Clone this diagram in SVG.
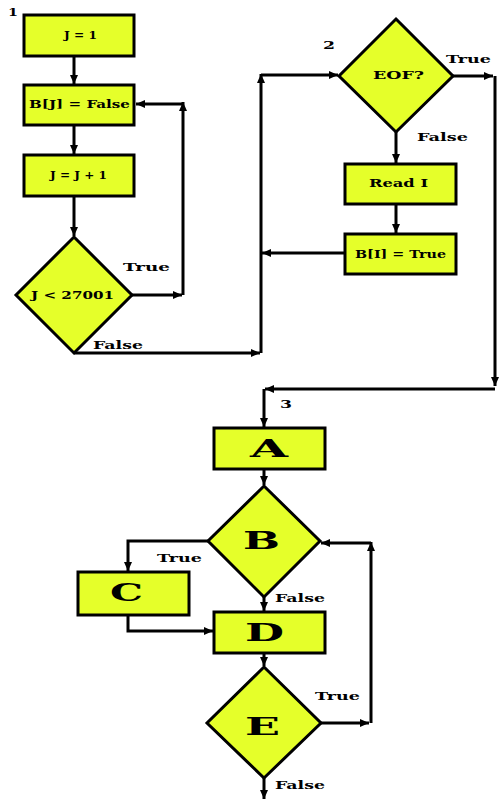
<svg xmlns="http://www.w3.org/2000/svg" width="500" height="800" viewBox="0 0 500 800">
<defs>
<marker id="ah" markerUnits="userSpaceOnUse" markerWidth="10" markerHeight="10" viewBox="0 0 10 10" refX="9" refY="5" orient="auto">
<path d="M0,1 L9,5 L0,9 Z" fill="#000"/>
</marker>
</defs>
<style>
.n{fill:#e5ff2a;stroke:#000;stroke-width:3}
.c{fill:none;stroke:#000;stroke-width:3;marker-end:url(#ah)}
.t{font-family:"DejaVu Serif","Liberation Serif",serif;font-weight:bold;font-size:11px;fill:#000}
.b{font-family:"DejaVu Serif","Liberation Serif",serif;font-weight:900;font-size:25px;fill:#000}
</style>
<rect width="500" height="800" fill="#fff"/>
<text class="t" x="8" y="16" textLength="10" lengthAdjust="spacingAndGlyphs">1</text>
<text class="t" x="323" y="49" textLength="12" lengthAdjust="spacingAndGlyphs">2</text>
<text class="t" x="280" y="408" textLength="12" lengthAdjust="spacingAndGlyphs">3</text>
<g id="n1"><rect class="n" x="24" y="15" width="110" height="41"/><text class="t" x="64" y="39" textLength="33" lengthAdjust="spacingAndGlyphs">J = 1</text></g>
<g id="n2"><rect class="n" x="24" y="85" width="110" height="40"/><text class="t" x="29" y="108" textLength="101" lengthAdjust="spacingAndGlyphs">B[J] = False</text></g>
<g id="n3"><rect class="n" x="24" y="155" width="110" height="41"/><text class="t" x="50" y="179" textLength="57" lengthAdjust="spacingAndGlyphs">J = J + 1</text></g>
<g id="n4"><polygon class="n" points="74,237 132,295 74,353 16,295"/><text class="t" x="31" y="299" textLength="83" lengthAdjust="spacingAndGlyphs">J &lt; 27001</text></g>
<g id="n5"><polygon class="n" points="396,19 453,76 396,132 339,76"/><text class="t" x="373" y="79" textLength="51" lengthAdjust="spacingAndGlyphs">EOF?</text></g>
<g id="n6"><rect class="n" x="345" y="164" width="111" height="40"/><text class="t" x="369" y="187" textLength="59" lengthAdjust="spacingAndGlyphs">Read I</text></g>
<g id="n7"><rect class="n" x="345" y="234" width="111" height="40"/><text class="t" x="355" y="258" textLength="91" lengthAdjust="spacingAndGlyphs">B[I] = True</text></g>
<g id="n8"><rect class="n" x="214" y="428" width="111" height="41"/><text class="b" x="250" y="457" textLength="38" lengthAdjust="spacingAndGlyphs">A</text></g>
<g id="n9"><polygon class="n" points="264,486 320,541 264,597 208,541"/><text class="b" x="243" y="549" textLength="37" lengthAdjust="spacingAndGlyphs">B</text></g>
<g id="n10"><rect class="n" x="78" y="572" width="111" height="43"/><text class="b" x="110" y="601" textLength="33" lengthAdjust="spacingAndGlyphs">C</text></g>
<g id="n11"><rect class="n" x="214" y="612" width="111" height="41"/><text class="b" x="245" y="641" textLength="39" lengthAdjust="spacingAndGlyphs">D</text></g>
<g id="n12"><polygon class="n" points="264,667 321,723 264,778 207,723"/><text class="b" x="245" y="735" textLength="35" lengthAdjust="spacingAndGlyphs">E</text></g>
<g id="edges">
<path class="c" d="M74,56 V84"/>
<path class="c" d="M74,125 V154"/>
<path class="c" d="M74,196 V236"/>
<path class="c" d="M132,295 H182"/>
<path class="c" d="M183,295 V102"/>
<path class="c" d="M183,104 H136"/>
<path class="c" d="M74,353 H260"/>
<path class="c" d="M261,353 V74"/>
<path class="c" d="M261,75 H338"/>
<path class="c" d="M453,76 H493"/>
<path class="c" d="M396,132 V163"/>
<path class="c" d="M396,204 V233"/>
<path class="c" d="M345,253 H262"/>
<path class="c" d="M495,76 V386"/>
<path class="c" d="M495,389 H265"/>
<path class="c" d="M264,389 V427"/>
<path class="c" d="M264,469 V485"/>
<path class="c" d="M208,541 H128 V571"/>
<path class="c" d="M128,615 V631 H213"/>
<path class="c" d="M264,597 V611"/>
<path class="c" d="M264,653 V666"/>
<path class="c" d="M321,723 H369"/>
<path class="c" d="M371,723 V542"/>
<path class="c" d="M371,543 H321"/>
<path class="c" d="M264,778 V799"/>
</g>
<text class="t" x="123" y="271" textLength="47" lengthAdjust="spacingAndGlyphs">True</text>
<text class="t" x="93" y="349" textLength="50" lengthAdjust="spacingAndGlyphs">False</text>
<text class="t" x="446" y="63" textLength="45" lengthAdjust="spacingAndGlyphs">True</text>
<text class="t" x="417" y="141" textLength="51" lengthAdjust="spacingAndGlyphs">False</text>
<text class="t" x="157" y="562" textLength="45" lengthAdjust="spacingAndGlyphs">True</text>
<text class="t" x="275" y="602" textLength="50" lengthAdjust="spacingAndGlyphs">False</text>
<text class="t" x="315" y="700" textLength="45" lengthAdjust="spacingAndGlyphs">True</text>
<text class="t" x="275" y="789" textLength="50" lengthAdjust="spacingAndGlyphs">False</text>
</svg>
